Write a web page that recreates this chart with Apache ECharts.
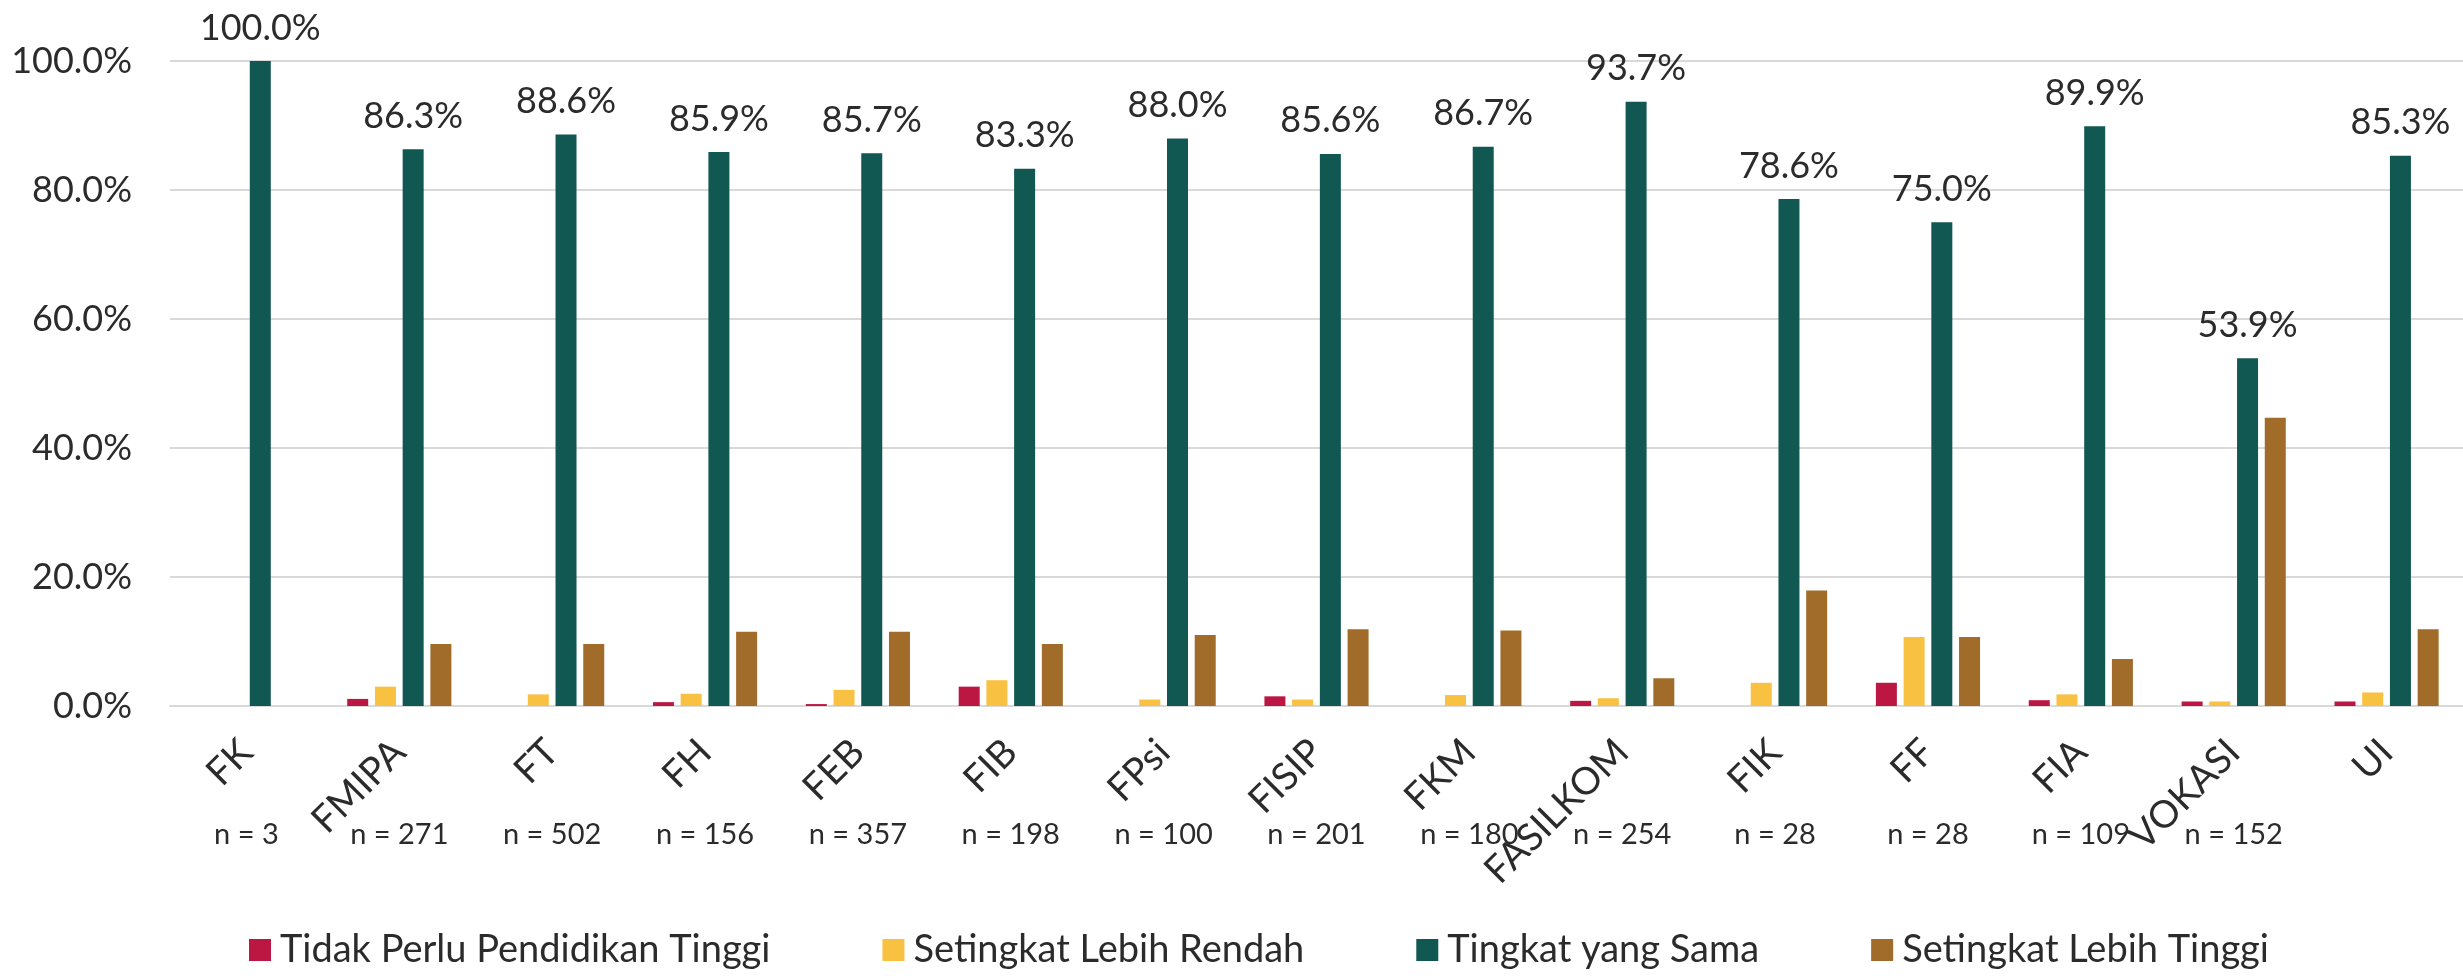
<!DOCTYPE html>
<html>
<head>
<meta charset="utf-8">
<script src="https://cdn.jsdelivr.net/npm/echarts@6/dist/echarts.min.js"></script>
<style>
  html, body { margin: 0; padding: 0; background: #fff; }
  #chart { width: 2463px; height: 978px; }
</style>
</head>
<body>
<div id="chart"></div>
<script>
// faculty groups
const faculties = ['FK', 'FMIPA', 'FT', 'FH', 'FEB', 'FIB', 'FPsi', 'FISIP', 'FKM', 'FASILKOM', 'FIK', 'FF', 'FIA', 'VOKASI', 'UI'];
const sampleSizes = ['n = 3', 'n = 271', 'n = 502', 'n = 156', 'n = 357', 'n = 198', 'n = 100', 'n = 201', 'n = 180', 'n = 254', 'n = 28', 'n = 28', 'n = 109', 'n = 152', ''];

// percentages per category (%)
const tidakPerlu = [0, 1.1, 0, 0.6, 0.3, 3.0, 0, 1.5, 0, 0.8, 0, 3.6, 0.9, 0.7, 0.7];
const lebihRendah = [0, 3.0, 1.8, 1.9, 2.5, 4.0, 1.0, 1.0, 1.7, 1.2, 3.6, 10.7, 1.8, 0.7, 2.1];
const tingkatSama = [100.0, 86.3, 88.6, 85.9, 85.7, 83.3, 88.0, 85.6, 86.7, 93.7, 78.6, 75.0, 89.9, 53.9, 85.3];
const lebihTinggi = [0, 9.6, 9.6, 11.5, 11.5, 9.6, 11.0, 11.9, 11.7, 4.3, 17.9, 10.7, 7.3, 44.7, 11.9];

const yTicks = [0, 20, 40, 60, 80, 100];

(function () {
  const chart = echarts.init(document.getElementById('chart'), null, { renderer: 'canvas' });
  const font = 'Lato, "Open Sans", sans-serif';
  const textColor = '#2b2b2b';

  function barSeries(name, data, color, withLabel) {
    return {
      name: name,
      type: 'bar',
      data: data,
      barWidth: 21,
      barGap: '32%',
      itemStyle: { color: color },
      label: {
        show: withLabel,
        position: 'top',
        distance: 15,
        fontFamily: font,
        fontSize: 36,
        color: textColor,
        formatter: p => p.value.toFixed(1) + '%'
      }
    };
  }

  const option = {
    animation: false,
    textStyle: { fontFamily: font },
    grid: { left: 170, right: -11, top: 61, bottom: 272, containLabel: false },
    legend: {
      bottom: 4,
      left: 244,
      itemWidth: 22,
      itemHeight: 22,
      itemGap: 112,
      icon: 'rect',
      textStyle: { fontFamily: font, fontSize: 38, color: textColor, padding: [0, 0, 0, 4] },
      data: ['Tidak Perlu Pendidikan Tinggi', 'Setingkat Lebih Rendah', 'Tingkat yang Sama', 'Setingkat Lebih Tinggi']
    },
    xAxis: [
      {
        type: 'category',
        data: faculties,
        axisLine: { lineStyle: { color: '#d9d9d9', width: 2 } },
        axisTick: { show: false },
        axisLabel: {
          rotate: 45,
          margin: 40,
          fontFamily: font,
          fontSize: 38,
          color: textColor,
          interval: 0
        }
      },
      {
        type: 'category',
        position: 'bottom',
        data: sampleSizes,
        axisLine: { show: false },
        axisTick: { show: false },
        axisLabel: {
          margin: 114,
          fontFamily: font,
          fontSize: 29,
          color: textColor,
          interval: 0
        }
      }
    ],
    yAxis: {
      type: 'value',
      min: yTicks[0],
      max: yTicks[yTicks.length - 1],
      interval: 20,
      axisLine: { show: false },
      axisTick: { show: false },
      splitLine: { lineStyle: { color: '#d9d9d9', width: 2 } },
      axisLabel: {
        margin: 38,
        fontFamily: font,
        fontSize: 36,
        color: textColor,
        formatter: v => v.toFixed(1) + '%'
      }
    },
    series: [
      barSeries('Tidak Perlu Pendidikan Tinggi', tidakPerlu, '#BC1742', false),
      barSeries('Setingkat Lebih Rendah', lebihRendah, '#F9C141', false),
      barSeries('Tingkat yang Sama', tingkatSama, '#115752', true),
      barSeries('Setingkat Lebih Tinggi', lebihTinggi, '#A16C29', false)
    ]
  };

  chart.setOption(option);
})();
</script>
</body>
</html>
